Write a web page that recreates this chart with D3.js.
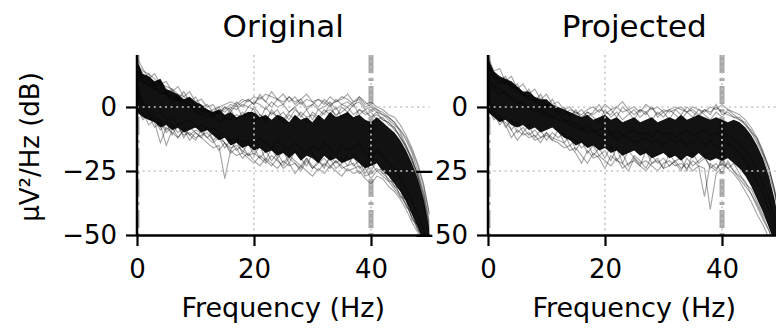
<!DOCTYPE html>
<html>
<head>
<meta charset="utf-8">
<script src="https://cdn.jsdelivr.net/npm/d3@7"></script>
<style>
  body { margin: 0; background: #fff; }
  text { font-family: "DejaVu Sans", sans-serif; fill: #000; }
</style>
</head>
<body>
<svg width="776" height="328"></svg>
<script>
// frequency bins (Hz)
var freqs = d3.range(0, 51);

var titles = ["Original", "Projected"];
var xTicks = [0, 20, 40];
var yTicks = [0, -25, -50];
var gridX = [20, 40];
var gridY = [0, -25];
var markerFreqs = [0, 40];

// dense core of the channel spectra (dB), upper and lower edge
var origHi = [18, 13, 12, 10, 11, 7, 6, 5, 3, 4, 2, 1, -1, -2, -1, -3, -2, -4, -3, -2, -2, -4, -3, -5, -3, -4, -6, -3, -5, -4, -6, -3, -5, -2, -4, -3, -2, -4, -3, -5, -6, -4, -6, -8, -10, -13, -17, -22, -28, -36, -48];
var origLo = [-2, -4, -5, -6, -8, -7, -9, -8, -10, -9, -8, -10, -9, -11, -13, -12, -15, -14, -16, -15, -17, -16, -18, -17, -19, -18, -20, -18, -21, -19, -20, -22, -19, -21, -20, -22, -21, -20, -22, -24, -23, -22, -25, -27, -30, -33, -37, -42, -47, -52, -60];
var projHi = [19, 14, 12, 11, 10, 8, 6, 6, 4, 3, 3, 1, 0, -1, -2, -3, -4, -3, -5, -4, -3, -5, -4, -6, -5, -4, -6, -5, -4, -6, -5, -4, -5, -3, -5, -4, -3, -4, -5, -4, -5, -6, -5, -6, -8, -11, -15, -20, -27, -36, -48];
var projLo = [-2, -4, -6, -5, -7, -8, -7, -9, -8, -10, -9, -8, -10, -12, -13, -15, -14, -16, -15, -17, -16, -18, -17, -19, -18, -17, -19, -18, -20, -19, -18, -20, -19, -21, -19, -20, -18, -20, -21, -20, -21, -20, -22, -24, -27, -31, -36, -41, -47, -53, -60];

// individual channels around and outside the core
var origLines = [
  [16, 12, 10, 9, 8, 6, 4, 3, 2, 1, 0, -1, -2, -1, 0, 1, 2, 1, 3, 2, 4, 3, 5, 4, 3, 5, 2, 4, 1, 3, 2, 0, 3, 1, 2, 4, 3, 1, 2, -1, 0, -2, -3, -5, -7, -9, -13, -18, -25, -33, -45],
  [12, 9, 11, 7, 6, 5, 3, 4, 1, 0, -1, -3, -2, -4, -1, -2, 0, -1, 1, 0, 2, 1, -1, 2, 0, 1, -2, 0, 2, -1, 1, -1, 0, 2, -1, 1, 0, 2, 3, 0, 1, -1, -2, -4, -6, -10, -15, -20, -27, -36, -48],
  [5, 0, -3, -6, -14, -8, -10, -12, -9, -13, -10, -12, -14, -16, -15, -28, -17, -19, -18, -20, -22, -19, -21, -23, -20, -24, -22, -26, -23, -25, -27, -24, -26, -23, -25, -27, -24, -26, -25, -28, -30, -27, -28, -31, -33, -36, -40, -45, -49, -55, -60],
  [3, -2, -5, -4, -7, -15, -9, -8, -11, -10, -12, -11, -10, -13, -17, -14, -18, -16, -20, -18, -21, -23, -20, -22, -24, -21, -23, -22, -25, -21, -24, -22, -20, -23, -21, -24, -23, -22, -26, -24, -28, -25, -27, -29, -32, -35, -38, -43, -48, -52, -58],
  [14, 10, 8, 9, 5, 6, 2, 3, 0, 1, -2, -3, -4, -3, -6, -4, -5, -3, -4, -2, -6, -3, -5, -2, -4, -6, -3, -5, -2, -4, -3, -5, -2, -1, -3, -2, 0, -3, -1, -2, -4, -3, -5, -6, -8, -12, -16, -21, -28, -37, -50],
  [8, 2, 0, -3, -2, -5, -4, -7, -6, -5, -8, -7, -9, -8, -10, -11, -13, -12, -14, -13, -15, -12, -14, -16, -13, -15, -17, -14, -16, -18, -15, -17, -14, -16, -19, -15, -17, -16, -14, -18, -20, -17, -19, -22, -24, -28, -32, -37, -42, -48, -56],
  [17, 14, 13, 11, 9, 8, 7, 5, 4, 3, 1, 0, -1, -3, -2, -1, 1, 0, 2, 3, 1, 4, 2, 0, 3, 1, 4, 2, 3, 0, 1, 3, 2, 0, 3, 1, 2, 0, 4, 2, 0, -1, -3, -4, -6, -9, -12, -17, -23, -31, -42],
  [6, 1, -2, -4, -5, -9, -7, -10, -8, -11, -9, -10, -12, -10, -12, -14, -16, -15, -17, -19, -18, -20, -22, -19, -21, -23, -20, -22, -24, -20, -23, -25, -22, -24, -21, -23, -25, -24, -23, -27, -26, -24, -26, -28, -31, -34, -38, -43, -47, -53, -60],
  [19, 15, 11, 13, 9, 10, 6, 8, 4, 6, 2, 3, 0, 1, -3, 0, -2, 1, -4, 0, -1, -5, 0, -3, -1, -5, -2, 0, -4, -1, -5, -1, -3, 1, -4, 0, -2, 1, -3, -1, -4, -2, -5, -6, -9, -11, -16, -20, -27, -34, -46],
  [15, 11, 13, 8, 10, 5, 7, 3, 6, 2, 4, 0, 1, -2, 0, -4, -1, -5, -2, -4, 0, -3, -6, -1, -4, -2, -5, -1, -3, -6, -2, -4, -1, -3, 0, -4, -2, -5, -1, -3, -2, -5, -4, -7, -8, -12, -15, -21, -26, -35, -47],
  [0, -5, -3, -8, -6, -10, -8, -12, -9, -11, -13, -9, -12, -14, -12, -16, -13, -17, -15, -19, -16, -20, -17, -21, -18, -22, -19, -21, -23, -20, -24, -21, -23, -20, -24, -22, -19, -23, -21, -26, -22, -25, -24, -29, -29, -35, -36, -44, -46, -54, -58],
  [-3, -2, -7, -5, -9, -6, -11, -7, -12, -8, -10, -12, -8, -13, -11, -14, -17, -13, -18, -14, -19, -15, -21, -16, -20, -17, -22, -17, -20, -23, -18, -21, -24, -19, -22, -20, -23, -19, -24, -22, -25, -21, -26, -26, -31, -32, -39, -41, -48, -50, -60],
  [13, 10, 9, 7, 7, 4, 5, 2, 3, 0, 1, -2, -1, -3, -2, 0, -1, 2, 0, 3, 1, 5, 2, 6, 3, 2, 4, 1, 3, 5, 2, 3, 1, 4, 2, 3, 5, 2, 4, 1, 2, 0, -1, -3, -4, -7, -11, -16, -22, -30, -42]
];
var projLines = [
  [15, 11, 9, 10, 8, 6, 5, 3, 2, 1, 0, -1, -2, -3, -1, -2, -3, -1, 0, -2, 1, -1, 0, 2, -1, 0, -2, 1, -1, 0, -2, -1, 0, -1, -2, 0, -1, -2, 0, -1, 1, -1, -2, -3, -5, -8, -12, -17, -24, -32, -45],
  [4, -1, -4, -7, -12, -9, -11, -10, -13, -12, -11, -13, -14, -16, -15, -18, -22, -17, -20, -19, -21, -23, -20, -24, -22, -21, -23, -25, -22, -21, -24, -23, -21, -24, -22, -25, -23, -24, -40, -26, -24, -22, -25, -28, -31, -34, -39, -44, -48, -54, -60],
  [2, -3, -5, -6, -9, -13, -10, -12, -11, -14, -10, -12, -13, -14, -17, -16, -19, -22, -18, -20, -24, -19, -21, -22, -25, -20, -22, -21, -23, -25, -22, -21, -23, -22, -24, -21, -23, -35, -22, -24, -22, -24, -26, -29, -33, -37, -42, -46, -51, -56, -60],
  [12, 8, 7, 5, 4, 2, 1, 0, -2, -1, -3, -4, -5, -6, -5, -8, -9, -7, -10, -9, -8, -10, -9, -11, -10, -9, -11, -10, -12, -9, -11, -10, -12, -10, -9, -11, -10, -9, -11, -10, -12, -11, -13, -14, -17, -20, -25, -30, -36, -43, -55],
  [10, 7, 5, 6, 3, 1, 2, -1, 0, -3, -2, -4, -3, -5, -7, -6, -8, -10, -9, -11, -12, -10, -13, -11, -12, -14, -13, -12, -14, -13, -15, -12, -14, -13, -15, -14, -12, -15, -13, -16, -15, -14, -16, -18, -21, -25, -29, -34, -40, -47, -58],
  [18, 13, 11, 9, 9, 7, 5, 4, 3, 2, 1, 0, -2, -1, -3, -2, -4, -2, -3, -1, -2, -3, 0, -2, -1, -3, -1, -2, 0, -3, -1, -2, -1, 0, -2, -1, -3, -1, -2, 0, -2, -3, -4, -5, -7, -10, -14, -19, -26, -34, -46],
  [20, 14, 15, 10, 12, 7, 9, 5, 7, 3, 5, 1, 2, -1, 0, -3, -1, -4, -2, 1, -3, -1, -4, 0, -2, -5, -1, -3, 0, -4, -2, -5, -1, -3, 0, -2, -4, -1, -3, 1, -3, -2, -4, -4, -7, -9, -13, -18, -24, -33, -45],
  [16, 12, 10, 12, 7, 9, 4, 7, 2, 5, 0, 3, -1, 0, -4, -1, -5, -2, -4, -6, -1, -4, -2, -5, -3, -1, -4, -2, -5, -2, -4, -1, -3, -5, -2, -4, -1, -3, -5, -2, -4, -1, -3, -5, -6, -10, -12, -18, -23, -33, -44],
  [0, -5, -3, -8, -5, -10, -8, -11, -9, -12, -10, -13, -9, -14, -11, -17, -13, -18, -15, -19, -17, -21, -16, -22, -17, -20, -23, -17, -22, -20, -24, -18, -22, -25, -20, -23, -21, -19, -24, -22, -26, -21, -25, -27, -29, -34, -38, -43, -48, -55, -60],
  [-3, -2, -7, -4, -9, -6, -10, -7, -12, -9, -13, -10, -12, -10, -15, -13, -16, -14, -19, -16, -20, -15, -21, -18, -23, -19, -21, -24, -19, -22, -20, -23, -21, -20, -25, -18, -22, -20, -23, -25, -20, -24, -22, -26, -30, -32, -37, -42, -46, -52, -60]
];

var panels = [
  { title: titles[0], left: 137, hi: origHi, lo: origLo, lines: origLines },
  { title: titles[1], left: 488, hi: projHi, lo: projLo, lines: projLines }
];

var svg = d3.select("svg");
var plotTop = 55, plotBottom = 235, plotW = 292.5;

panels.forEach(function (p, i) {
  var x = d3.scaleLinear().domain([0, 50]).range([p.left, p.left + plotW]);
  var y = d3.scaleLinear().domain([-50, 20.3]).range([plotBottom, plotTop]);

  svg.append("clipPath").attr("id", "clip" + i)
    .append("rect")
    .attr("x", p.left).attr("y", plotTop)
    .attr("width", plotW).attr("height", plotBottom - plotTop);

  var g = svg.append("g").attr("clip-path", "url(#clip" + i + ")");

  // thick dash-dot markers (filter edges)
  g.selectAll(".marker")
    .data(markerFreqs)
    .enter().append("line")
    .attr("x1", d => x(d)).attr("x2", d => x(d))
    .attr("y1", plotTop).attr("y2", plotBottom)
    .attr("stroke", "#a8a8a8")
    .attr("stroke-width", 5)
    .attr("stroke-dasharray", "18,5,3,5");

  // dense core of the spectra
  var area = d3.area()
    .x((d, k) => x(freqs[k]))
    .y0((d, k) => y(p.lo[k]))
    .y1((d, k) => y(p.hi[k]));
  g.append("path")
    .attr("d", area(p.hi))
    .attr("fill", "#000")
    .attr("fill-opacity", 0.93);

  // channel lines
  var line = d3.line()
    .x((d, k) => x(freqs[k]))
    .y(d => y(d));
  g.selectAll(".chan")
    .data(p.lines)
    .enter().append("path")
    .attr("d", line)
    .attr("fill", "none")
    .attr("stroke", "#000")
    .attr("stroke-opacity", 0.36)
    .attr("stroke-width", 1.1);

  // dotted grid on top of the data
  g.selectAll(".gx")
    .data(gridX)
    .enter().append("line")
    .attr("x1", d => x(d)).attr("x2", d => x(d))
    .attr("y1", plotTop).attr("y2", plotBottom)
    .attr("stroke", "#c4c4c4").attr("stroke-width", 1.6)
    .attr("stroke-dasharray", "2,3.6");
  g.selectAll(".gy")
    .data(gridY)
    .enter().append("line")
    .attr("x1", p.left).attr("x2", p.left + plotW)
    .attr("y1", d => y(d)).attr("y2", d => y(d))
    .attr("stroke", "#c4c4c4").attr("stroke-width", 1.6)
    .attr("stroke-dasharray", "2,3.6");

  // axes, only left and bottom spines
  var xAxis = svg.append("g")
    .attr("transform", "translate(0," + plotBottom + ")")
    .call(d3.axisBottom(x).tickValues(xTicks).tickSize(11).tickSizeOuter(0).tickPadding(14));
  var yAxis = svg.append("g")
    .attr("transform", "translate(" + p.left + ",0)")
    .call(d3.axisLeft(y).tickValues(yTicks).tickSize(11).tickSizeOuter(0).tickPadding(9));
  yAxis.select(".domain").attr("d", "M0," + plotTop + "V" + plotBottom);
  [xAxis, yAxis].forEach(function (a) {
    a.select(".domain").attr("stroke", "#000").attr("stroke-width", 2.5);
    a.selectAll(".tick line").attr("stroke", "#000").attr("stroke-width", 2.2);
    a.selectAll(".tick text").attr("font-size", 26).attr("font-family", "DejaVu Sans");
  });

  svg.append("text")
    .attr("x", p.left + plotW / 2).attr("y", 37)
    .attr("text-anchor", "middle")
    .attr("font-size", 31)
    .text(p.title);

  svg.append("text")
    .attr("x", p.left + plotW / 2).attr("y", 317)
    .attr("text-anchor", "middle")
    .attr("font-size", 27)
    .text("Frequency (Hz)");
});

svg.append("text")
  .attr("transform", "translate(39,147) rotate(-90)")
  .attr("text-anchor", "middle")
  .attr("font-size", 26)
  .text("µV²/Hz (dB)");
</script>
</body>
</html>
